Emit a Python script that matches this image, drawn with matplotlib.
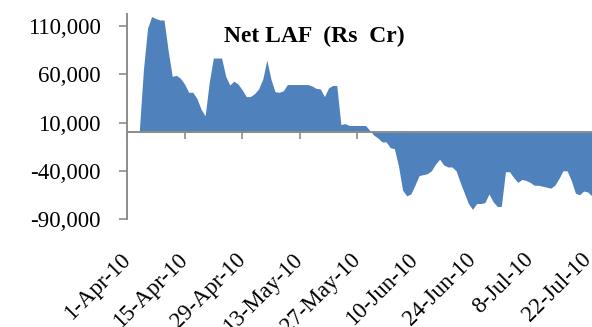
import matplotlib
matplotlib.use("Agg")
import matplotlib.pyplot as plt
import matplotlib.dates as mdates
from matplotlib.ticker import FuncFormatter
import pandas as pd

# Net LAF, Rs crore, one value per day from 4-Apr-2010
laf_start = "2010-04-04"
laf_values = [
    2000, 65000, 108000, 120000, 118000, 116500, 116500, 85000, 58000, 59000,
    56000, 50000, 41500, 41500, 35000, 24000, 17000, 52000, 77000, 77000,
    77000, 58000, 49000, 53000, 50000, 44000, 37000, 37000, 40000, 45000,
    55000, 75000, 55000, 42000, 41500, 43000, 49500, 49500, 49500, 49500,
    49500, 49500, 48000, 45500, 45000, 37000, 46000, 48500, 48500, 8000,
    9000, 7000, 7000, 7000, 7000, 7000, 2000, -3000, -6000, -10000,
    -10000, -16000, -17000, -35000, -60000, -66000, -64000, -55000, -45000, -44000,
    -43000, -40000, -33000, -28000, -34000, -36000, -36000, -40000, -52000, -63000,
    -74000, -80000, -74000, -74000, -73000, -64000, -72000, -77000, -77000, -41000,
    -41000, -47000, -52000, -49000, -50000, -52000, -55000, -55000, -56000, -57000,
    -58000, -55000, -48000, -40000, -40000, -50000, -63000, -65000, -61000, -62000,
    -66000,
]
tick_dates = ["2010-04-01", "2010-04-15", "2010-04-29", "2010-05-13", "2010-05-27",
              "2010-06-10", "2010-06-24", "2010-07-08", "2010-07-22"]
tick_labels = ["1-Apr-10", "15-Apr-10", "29-Apr-10", "13-May-10", "27-May-10",
               "10-Jun-10", "24-Jun-10", "8-Jul-10", "22-Jul-10"]
y_ticks = [-90000, -40000, 10000, 60000, 110000]

plt.rcParams["font.family"] = ["Liberation Serif", "DejaVu Serif"]

dates = pd.date_range(laf_start, periods=len(laf_values), freq="D")
x = mdates.date2num(dates)
xt = mdates.date2num(pd.to_datetime(tick_dates))

fig = plt.figure(figsize=(5.92, 3.27), dpi=100)
ax = fig.add_axes([0.2145, 0.3303, 0.7838, 0.6269])

ax.fill_between(x, laf_values, 0, color="#4F81BD", linewidth=0, zorder=2)

ax.set_xlim(xt[0], xt[0] + 112.8)
ax.set_ylim(-90000, 122700)

grey = "#8C8C8C"
for s in ["top", "right"]:
    ax.spines[s].set_visible(False)
ax.spines["left"].set_color(grey)
ax.spines["left"].set_linewidth(1.4)
ax.spines["bottom"].set_position(("data", 0))
ax.spines["bottom"].set_color(grey)
ax.spines["bottom"].set_linewidth(1.4)
ax.spines["bottom"].set_zorder(3)

ax.set_yticks(y_ticks)
ax.yaxis.set_major_formatter(FuncFormatter(lambda v, p: f"{v:,.0f}"))
ax.tick_params(axis="y", direction="out", length=6, width=1.2, color=grey,
               labelsize=16.5, pad=13)

# ticks sit on the zero line, labels go below the plot
ax.set_xticks(xt)
ax.tick_params(axis="x", direction="out", length=5, width=1.2, color=grey,
               labelbottom=False)

sec = ax.secondary_xaxis(0.0)
sec.set_xticks(xt, tick_labels)
sec.spines["bottom"].set_visible(False)
sec.tick_params(axis="x", length=0, pad=27, labelsize=16.5)
for lab in sec.get_xticklabels():
    lab.set_rotation(45)
    lab.set_ha("right")
    lab.set_va("center")
    lab.set_rotation_mode("anchor")

ax.text(0.4045, 0.865, "Net LAF  (Rs  Cr)", transform=ax.transAxes,
        ha="center", va="baseline", fontsize=17, fontweight="bold")

fig.savefig("out.png", dpi=100)
